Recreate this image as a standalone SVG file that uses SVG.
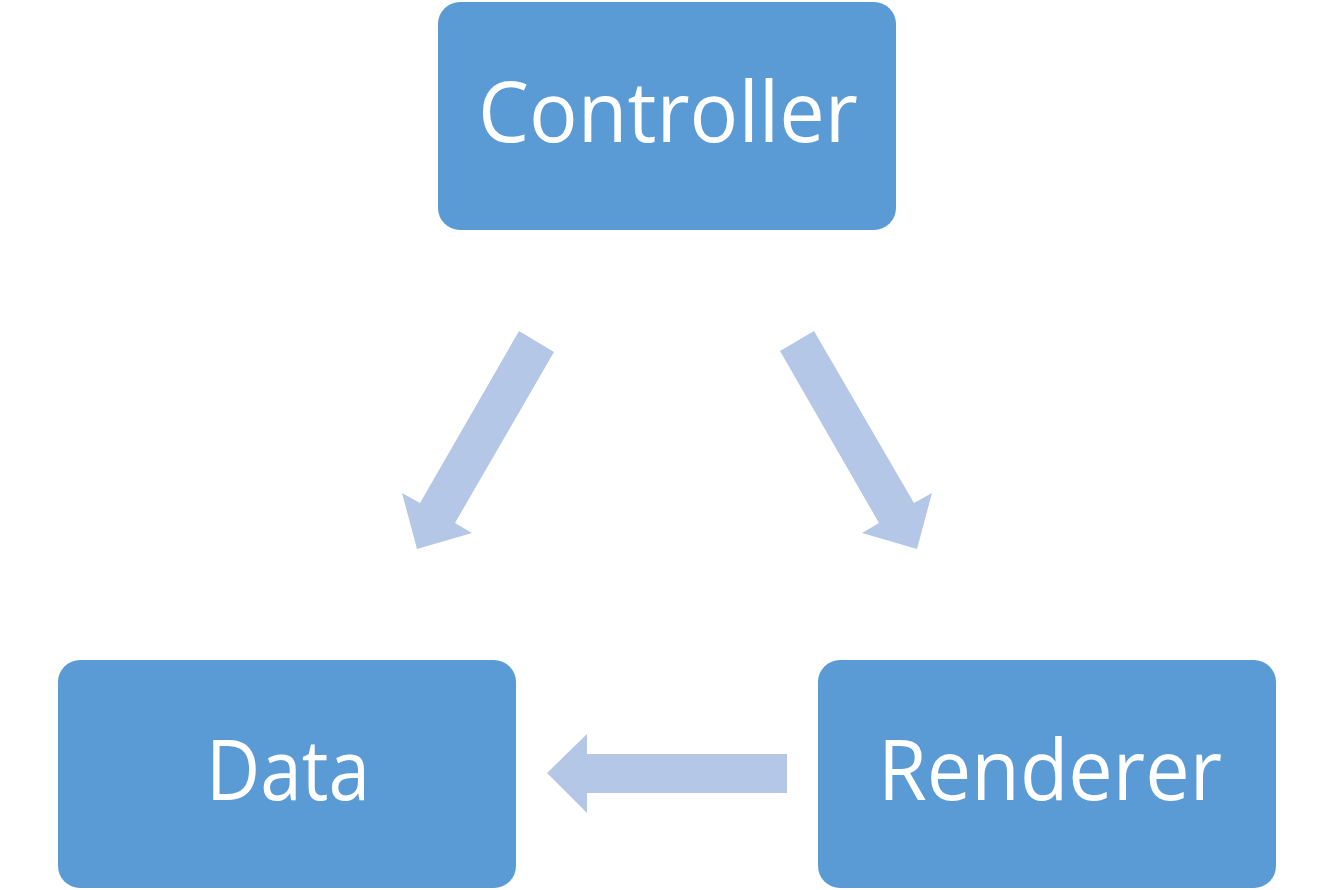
<svg xmlns="http://www.w3.org/2000/svg" width="1334" height="890" viewBox="0 0 1334 890">
<style>
.node rect{fill:#5B9BD5}
.node text{fill:#FFFFFF;font-family:"Open Sans","Noto Sans","Liberation Sans",sans-serif;font-size:84px;text-anchor:middle}
.conn polygon{fill:#B4C7E7}
</style>
<rect width="1334" height="890" fill="#FFFFFF"/>
<g id="controller" class="node">
<rect x="438" y="2" width="458" height="228" rx="22"/>
<text x="668" y="142" textLength="380" lengthAdjust="spacingAndGlyphs">Controller</text>
</g>
<g id="data" class="node">
<rect x="58" y="660" width="458" height="228" rx="22"/>
<text x="288" y="800" textLength="164" lengthAdjust="spacingAndGlyphs">Data</text>
</g>
<g id="renderer" class="node">
<rect x="818" y="660" width="458" height="228" rx="22"/>
<text x="1050" y="800" textLength="344" lengthAdjust="spacingAndGlyphs">Renderer</text>
</g>
<g id="connectors" class="conn">
<polygon points="519,331 554,352 455,523 472,533 417,549 402,493 420,503"/>
<polygon points="814,331 780,351 879,523 862,533 917,549 932,493 914,503"/>
<polygon points="787,754 587,754 587,734 547,773 587,813 587,793 787,793"/>
</g>
</svg>
